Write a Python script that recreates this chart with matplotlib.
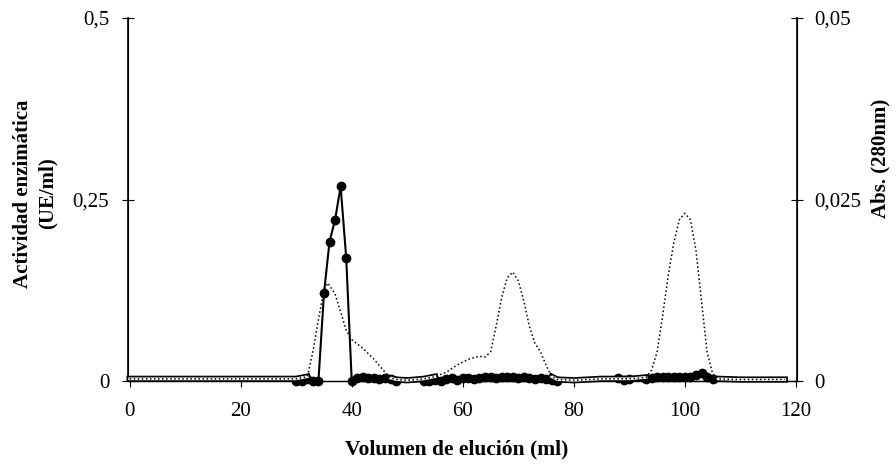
import numpy as np
import matplotlib
matplotlib.use('Agg')
import matplotlib.pyplot as plt

plt.rcParams['font.family'] = ['Liberation Serif', 'DejaVu Serif']

# absorbancia 280 nm (eje derecho)
abs_x = [0, 10, 20, 30, 32, 33, 34, 35, 35.7, 37, 38, 39, 40, 42, 44, 46, 47, 48,
         50, 53, 55, 57, 59, 61, 63, 64, 65, 66, 67, 68, 69, 70, 71, 72, 73, 74,
         75, 76, 77, 80, 85, 90, 93, 94, 95, 96, 97, 98, 99, 100, 101, 102, 103,
         104, 105, 106, 110, 118]
abs_y = [0.0003, 0.0003, 0.0003, 0.0003, 0.0006, 0.004, 0.0085, 0.0125, 0.0135,
         0.012, 0.0095, 0.007, 0.0057, 0.0045, 0.003, 0.0012, 0.0004, 0.0002,
         0.0001, 0.0003, 0.0006, 0.0012, 0.0022, 0.003, 0.0034, 0.0033, 0.004,
         0.0075, 0.0115, 0.0142, 0.015, 0.0138, 0.011, 0.0075, 0.0052, 0.004,
         0.0022, 0.0006, 0.0002, 0.0001, 0.0003, 0.0003, 0.0005, 0.0015, 0.004,
         0.009, 0.0145, 0.019, 0.0222, 0.0231, 0.0222, 0.018, 0.011, 0.004,
         0.001, 0.0003, 0.0002, 0.0002]

# actividad enzimatica (eje izquierdo), fracciones medidas
act_x = [30, 31, 32, 33, 34, 35, 36, 37, 38, 39, 40, 41, 42, 43, 44, 45, 46, 47, 48,
         53, 54, 55, 56, 57, 58, 59, 60, 61, 62, 63, 64, 65, 66, 67, 68, 69, 70,
         71, 72, 73, 74, 75, 76, 77,
         88, 89, 90, 93, 94, 95, 96, 97, 98, 99, 100, 101, 102, 103, 104, 105]
act_y = [0, 0, 0.003, 0, 0, 0.121, 0.192, 0.222, 0.268, 0.17, 0, 0.004, 0.005,
         0.004, 0.004, 0.003, 0.004, 0.003, 0,
         0, 0, 0.002, 0, 0.003, 0.004, 0.002, 0.004, 0.004, 0.003, 0.004, 0.005,
         0.005, 0.004, 0.005, 0.005, 0.005, 0.004, 0.005, 0.004, 0.003, 0.004,
         0.003, 0.002, 0,
         0.004, 0.002, 0.003, 0.003, 0.004, 0.005, 0.005, 0.006, 0.005, 0.005,
         0.006, 0.006, 0.008, 0.011, 0.006, 0.003]

fig = plt.figure(figsize=(8.96, 4.72), dpi=100)
ax = fig.add_axes([128/896, 1-381/472, (797-128)/896, (381-18)/472])
ax2 = ax.twinx()

ax.plot(act_x, act_y, '-', color='black', lw=1.5, marker='o', markersize=6,
        clip_on=False, zorder=4)

a = np.array(abs_y)
base = np.where(a < 0.0008, a, np.nan)
ax2.plot(abs_x, base, '-', color='black', lw=4.5, zorder=2, clip_on=False)
ax2.plot(abs_x, base, '-', color='white', lw=2, zorder=3, clip_on=False)
ax2.plot(abs_x, abs_y, ':', color='black', lw=1.1, zorder=3, clip_on=False)

ax.set_xlim(-0.3, 120.2)
ax.set_ylim(0, 0.5)
ax2.set_ylim(0, 0.05)

ax.set_xticks([0, 20, 40, 60, 80, 100, 120])
ax.set_yticks([0, 0.25, 0.5])
ax.set_yticklabels(['0', '0,25', '0,5'])
ax2.set_yticks([0, 0.025, 0.05])
ax2.set_yticklabels(['0', '0,025', '0,05'])

ax.spines['top'].set_visible(False)
ax2.spines['top'].set_visible(False)
ax.spines['bottom'].set_linewidth(1)
ax2.spines['right'].set_linewidth(1.2)
ax.spines['left'].set_linewidth(1.2)

ax.tick_params(axis='x', direction='out', length=4, labelsize=15, pad=11)
ax.tick_params(axis='y', direction='inout', length=9, labelsize=15, pad=9)
ax2.tick_params(axis='y', direction='inout', length=9, labelsize=15, pad=8)

fig.text(0.039, 0.59, 'Actividad enzimática\n(UE/ml)', rotation=90,
         ha='center', va='center', fontsize=15, fontweight='bold',
         linespacing=1.3)
fig.text(0.983, 0.665, 'Abs. (280nm)', rotation=90, ha='center', va='center',
         fontsize=15, fontweight='bold')
fig.text(0.51, 0.047, 'Volumen de elución (ml)', ha='center', va='center',
         fontsize=15.5, fontweight='bold')

plt.savefig('out.png', dpi=100)
